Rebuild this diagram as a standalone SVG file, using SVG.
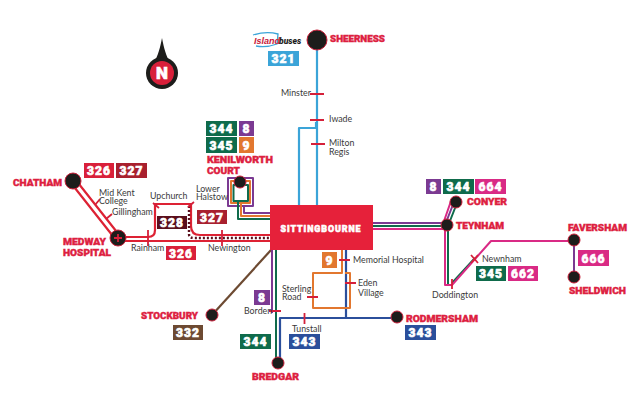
<svg xmlns="http://www.w3.org/2000/svg" width="644" height="403" viewBox="0 0 644 403">
<style>
.bg{fill:#fff}
.l{fill:none;stroke-linejoin:round}
.blue{stroke:#3ba4d8;stroke-width:2.2}
.pur{stroke:#7b3a92;stroke-width:2}
.org{stroke:#e2772f;stroke-width:2}
.grn{stroke:#0f6b4b;stroke-width:2}
.mag{stroke:#d92a85;stroke-width:2}
.nav{stroke:#2b4f9b;stroke-width:2.2}
.brn{stroke:#6d4a32;stroke-width:2.2}
.red{stroke:#dd2234;stroke-width:2.2}
.drk{stroke:#5a0f1c;stroke-width:2.4;stroke-dasharray:2 2}
.tick{stroke:#d5203a;stroke-width:1.8;fill:none}
.n{fill:#1d1d1b;stroke:#c8203a;stroke-width:1}
.b{font:900 12px Roboto,"Liberation Sans",sans-serif;fill:#fff;stroke:#fff;stroke-width:.6;text-anchor:middle;letter-spacing:1px}
.t{font:900 9.500px Roboto,"Liberation Sans",sans-serif;fill:#dd2040;stroke:#dd2040;stroke-width:.4}
.s{font:8.800px Lato,"Open Sans","Liberation Sans",sans-serif;fill:#3a3a3a}
</style>
<rect class="bg" width="644" height="403"/>
<g id="connectors">
<path class="l blue" d="M317 40V205M316 122V128H299V205"/>
<path class="l brn" d="M271 250L212 315"/>
<path class="l pur" d="M272 250V313"/>
<path class="l grn" d="M276 250V363"/>
<path class="l nav" d="M397 318H280V363M346 250V318"/>
<path class="l org" d="M342 250V273H313V308H350V273H345"/>
<path class="l pur" d="M228 178H253V206H228ZM244 206V213H270"/>
<path class="l org" d="M231 181H250V203H231ZM241 203V216H270"/>
<path class="l grn" d="M233.500 185H248V201H233.500ZM238 201V219H270"/>
<path class="l red" d="M71 183L116 240M75 179L120 236"/>
<path class="l red" d="M118 237H148Q155 237 155 230V204H191V226Q191 235 200 235H270M118 241H270"/>
<path class="l drk" d="M189 206V234Q189 238 194 238H270"/>
<path class="l pur" d="M373 223H447M454 202L445 225V284"/>
<path class="l grn" d="M373 226H447M457 203L448 226V284M452 283L475 258"/>
<path class="l mag" d="M373 229H447M451 201L443 224M445 228V285H452L491 241H574"/>
<path class="l pur" d="M574 241V277"/>
</g>
<g id="stops">
<path class="tick" d="M310 94H324M310 120H324M311 144H325M148 230V246M222 230V246M106 219L112 214M95 205L100 199M153 203L159 208M188 207L194 202M339 260H350M345 283H356M307 297H318M269 311H281M304.500 313V324M452 279V289M471 255L478 263M478 255L471 263"/>
</g>
<g id="compass">
<path fill="#1d1d1b" d="M162 38C160 48 158 56 154 62H170C166 56 164 48 162 38Z"/>
<circle cx="162" cy="73" r="16" fill="#1d1d1b"/>
<circle cx="162" cy="73" r="12" fill="#d81f3a"/>
<text x="162" y="79" class="b" style="font-size:17px;letter-spacing:0">N</text>
</g>
<g id="logo">
<path fill="none" stroke="#3ba4d8" stroke-width="1.300" d="M253 35Q266 31 278 34L277 44Q266 48 256 46"/>
<text x="254" y="44" style="font:italic 700 9px 'Liberation Sans',sans-serif;fill:#c8203a">Island</text>
<text x="279" y="44" style="font:italic 900 8.500px Roboto,'Liberation Sans',sans-serif;fill:#1d1d1b">buses</text>
</g>
<g id="sittingbourne"><rect x="270" y="205" width="103" height="45" fill="#e6213a"/><text x="321" y="232" class="b" style="font-size:9.500px" textLength="81" lengthAdjust="spacingAndGlyphs">SITTINGBOURNE</text></g>
<g id="sheerness"><circle class="n" cx="317" cy="40" r="10"/><text class="t" x="330" y="42" textLength="55" lengthAdjust="spacingAndGlyphs">SHEERNESS</text></g>
<g id="chatham"><circle class="n" cx="73" cy="181" r="8"/><text class="t" x="13" y="186" textLength="49" lengthAdjust="spacingAndGlyphs">CHATHAM</text></g>
<g id="medway"><circle class="n" cx="118" cy="238" r="8"/><path d="M114 238H122M118 234V242" stroke="#d81f3a" stroke-width="1.800"/><text class="t" x="63" y="245" textLength="43" lengthAdjust="spacingAndGlyphs">MEDWAY</text><text class="t" x="63" y="256" textLength="48" lengthAdjust="spacingAndGlyphs">HOSPITAL</text></g>
<g id="kenilworth"><circle class="n" cx="240" cy="182" r="6"/><text class="t" x="207" y="163" textLength="66" lengthAdjust="spacingAndGlyphs">KENILWORTH</text><text class="t" x="207" y="174" textLength="33" lengthAdjust="spacingAndGlyphs">COURT</text></g>
<g id="conyer"><circle class="n" cx="456" cy="202" r="6"/><text class="t" x="467" y="205" textLength="40" lengthAdjust="spacingAndGlyphs">CONYER</text></g>
<g id="teynham"><circle class="n" cx="447" cy="225" r="6"/><text class="t" x="456" y="229" textLength="48" lengthAdjust="spacingAndGlyphs">TEYNHAM</text></g>
<g id="faversham"><circle class="n" cx="574" cy="240" r="6"/><text class="t" x="568" y="231" textLength="59" lengthAdjust="spacingAndGlyphs">FAVERSHAM</text></g>
<g id="sheldwich"><circle class="n" cx="574" cy="277" r="6"/><text class="t" x="569" y="294" textLength="57" lengthAdjust="spacingAndGlyphs">SHELDWICH</text></g>
<g id="rodmersham"><circle class="n" cx="397" cy="317" r="6"/><text class="t" x="406" y="322" textLength="72" lengthAdjust="spacingAndGlyphs">RODMERSHAM</text></g>
<g id="bredgar"><circle class="n" cx="278" cy="363" r="6"/><text class="t" x="252" y="380" textLength="47" lengthAdjust="spacingAndGlyphs">BREDGAR</text></g>
<g id="stockbury"><circle class="n" cx="212" cy="315" r="6"/><text class="t" x="141" y="319" textLength="57" lengthAdjust="spacingAndGlyphs">STOCKBURY</text></g>
<g id="stop-labels">
<text class="s" x="281" y="96">Minster</text>
<text class="s" x="329" y="122">Iwade</text>
<text class="s" x="329" y="146">Milton</text><text class="s" x="329" y="155">Regis</text>
<text class="s" x="99" y="196">Mid Kent</text><text class="s" x="99" y="204">College</text>
<text class="s" x="112" y="215">Gillingham</text>
<text class="s" x="150" y="199">Upchurch</text>
<text class="s" x="196" y="192">Lower</text><text class="s" x="196" y="200">Halstow</text>
<text class="s" x="131" y="251">Rainham</text>
<text class="s" x="208" y="251">Newington</text>
<text class="s" x="353" y="263">Memorial Hospital</text>
<text class="s" x="358" y="286">Eden</text><text class="s" x="358" y="296">Village</text>
<text class="s" x="282" y="292">Sterling</text><text class="s" x="282" y="300">Road</text>
<text class="s" x="244" y="314">Borden</text>
<text class="s" x="292" y="332">Tunstall</text>
<text class="s" x="482" y="262">Newnham</text>
<text class="s" x="432" y="298">Doddington</text>
</g>
<g id="badges">
<rect x="268" y="51" width="31" height="15" fill="#3ba4d8"/><text class="b" x="283.500" y="63">321</text>
<rect x="84" y="163" width="30" height="15" fill="#d9203a"/><text class="b" x="99" y="175">326</text>
<rect x="116" y="163" width="31" height="15" fill="#a8202e"/><text class="b" x="131.500" y="175">327</text>
<rect x="157" y="216" width="30" height="13" fill="#5a0f1c"/><text class="b" x="172" y="227">328</text>
<rect x="197" y="210" width="30" height="14" fill="#a8202e"/><text class="b" x="212" y="222">327</text>
<rect x="166" y="246" width="30" height="14" fill="#d9203a"/><text class="b" x="181" y="258">326</text>
<rect x="206" y="121" width="31" height="15" fill="#0f6b4b"/><text class="b" x="221.500" y="133">344</text>
<rect x="239" y="121" width="15" height="15" fill="#7b3a92"/><text class="b" x="246.500" y="133">8</text>
<rect x="206" y="137" width="31" height="16" fill="#0f6b4b"/><text class="b" x="221.500" y="150">345</text>
<rect x="239" y="137" width="15" height="16" fill="#e2772f"/><text class="b" x="246.500" y="150">9</text>
<rect x="322" y="252" width="15" height="16" fill="#e2772f"/><text class="b" x="329.500" y="265">9</text>
<rect x="254" y="290" width="16" height="15" fill="#7b3a92"/><text class="b" x="262" y="302">8</text>
<rect x="240" y="334" width="31" height="15" fill="#0f6b4b"/><text class="b" x="255.500" y="346">344</text>
<rect x="289" y="334" width="31" height="15" fill="#2b4f9b"/><text class="b" x="304.500" y="346">343</text>
<rect x="405" y="325" width="31" height="15" fill="#2b4f9b"/><text class="b" x="420.500" y="337">343</text>
<rect x="173" y="325" width="30" height="15" fill="#6d4a32"/><text class="b" x="188" y="337">332</text>
<rect x="426" y="179" width="15" height="15" fill="#7b3a92"/><text class="b" x="433.500" y="191">8</text>
<rect x="443" y="179" width="31" height="15" fill="#0f6b4b"/><text class="b" x="458.500" y="191">344</text>
<rect x="475" y="179" width="31" height="15" fill="#d92a85"/><text class="b" x="490.500" y="191">664</text>
<rect x="476" y="266" width="30" height="15" fill="#0f6b4b"/><text class="b" x="491" y="278">345</text>
<rect x="508" y="266" width="30" height="15" fill="#d92a85"/><text class="b" x="523" y="278">662</text>
<rect x="578" y="250" width="31" height="16" fill="#d92a85"/><text class="b" x="593.500" y="263">666</text>
</g>
</svg>
